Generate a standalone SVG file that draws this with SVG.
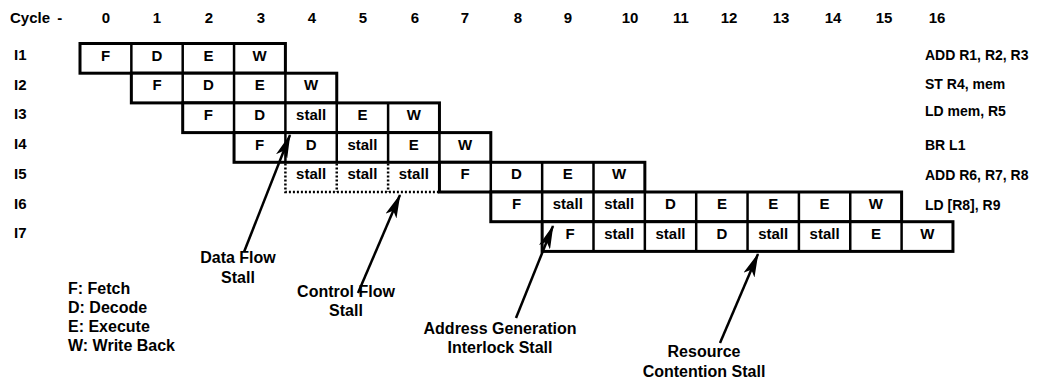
<svg xmlns="http://www.w3.org/2000/svg" width="1044" height="384" viewBox="0 0 1044 384">
<style>
text{font-family:"Liberation Sans",Arial,sans-serif;font-weight:bold;fill:#000}
.hd{font-size:15px;text-anchor:middle}
.rl{font-size:15px}
.c{font-size:15px;text-anchor:middle}
.ins{font-size:14px}
.ann{font-size:16px;text-anchor:middle}
.leg{font-size:16px}
.box{fill:#fff;stroke:#000;stroke-width:3}
.div{stroke:#000;stroke-width:2.5}
.dot{fill:none;stroke:#000;stroke-width:2.5;stroke-dasharray:2 2}
.arr{stroke:#000;stroke-width:2.5;fill:none;marker-end:url(#ah)}
</style>
<defs>
<marker id="ah" viewBox="0 0 24 12" refX="23" refY="6" markerWidth="24" markerHeight="12" markerUnits="userSpaceOnUse" orient="auto">
<path d="M0,0 L24,6 L0,12 L6,6 Z" fill="#000"/>
</marker>
</defs>
<rect width="1044" height="384" fill="#fff"/>
<g id="header">
<text x="10" y="23" style="font-size:15px" word-spacing="3">Cycle -</text>
<text class="hd" x="106" y="23">0</text>
<text class="hd" x="157" y="23">1</text>
<text class="hd" x="209" y="23">2</text>
<text class="hd" x="261" y="23">3</text>
<text class="hd" x="312" y="23">4</text>
<text class="hd" x="363" y="23">5</text>
<text class="hd" x="415" y="23">6</text>
<text class="hd" x="465" y="23">7</text>
<text class="hd" x="518" y="23">8</text>
<text class="hd" x="568" y="23">9</text>
<text class="hd" x="630" y="23">10</text>
<text class="hd" x="681" y="23">11</text>
<text class="hd" x="729" y="23">12</text>
<text class="hd" x="781" y="23">13</text>
<text class="hd" x="833" y="23">14</text>
<text class="hd" x="884" y="23">15</text>
<text class="hd" x="937" y="23">16</text>
</g>
<g id="I1">
<text class="rl" x="14" y="60">I1</text>
<rect class="box" x="80" y="43.5" width="205.4" height="29.7"/>
<line class="div" x1="131.35" y1="43.5" x2="131.35" y2="73.2"/>
<line class="div" x1="182.7" y1="43.5" x2="182.7" y2="73.2"/>
<line class="div" x1="234.05" y1="43.5" x2="234.05" y2="73.2"/>
<text class="c" x="105.7" y="60.5">F</text>
<text class="c" x="157" y="60.5">D</text>
<text class="c" x="208.4" y="60.5">E</text>
<text class="c" x="259.7" y="60.5">W</text>
<text class="ins" x="925" y="60">ADD R1, R2, R3</text>
</g>
<g id="I2">
<text class="rl" x="14" y="90">I2</text>
<rect class="box" x="131.35" y="73.2" width="205.4" height="29.7"/>
<line class="div" x1="182.7" y1="73.2" x2="182.7" y2="102.9"/>
<line class="div" x1="234.05" y1="73.2" x2="234.05" y2="102.9"/>
<line class="div" x1="285.4" y1="73.2" x2="285.4" y2="102.9"/>
<text class="c" x="157" y="90.2">F</text>
<text class="c" x="208.4" y="90.2">D</text>
<text class="c" x="259.7" y="90.2">E</text>
<text class="c" x="311.1" y="90.2">W</text>
<text class="ins" x="925" y="89">ST R4, mem</text>
</g>
<g id="I3">
<text class="rl" x="14" y="119">I3</text>
<rect class="box" x="182.7" y="102.9" width="256.75" height="29.7"/>
<line class="div" x1="234.05" y1="102.9" x2="234.05" y2="132.6"/>
<line class="div" x1="285.4" y1="102.9" x2="285.4" y2="132.6"/>
<line class="div" x1="336.75" y1="102.9" x2="336.75" y2="132.6"/>
<line class="div" x1="388.1" y1="102.9" x2="388.1" y2="132.6"/>
<text class="c" x="208.4" y="119.9">F</text>
<text class="c" x="259.7" y="119.9">D</text>
<text class="c" x="311.1" y="119.9">stall</text>
<text class="c" x="362.4" y="119.9">E</text>
<text class="c" x="413.8" y="119.9">W</text>
<text class="ins" x="925" y="116">LD mem, R5</text>
</g>
<g id="I4">
<text class="rl" x="14" y="149">I4</text>
<rect class="box" x="234.05" y="132.6" width="256.75" height="29.7"/>
<line class="div" x1="285.4" y1="132.6" x2="285.4" y2="162.3"/>
<line class="div" x1="336.75" y1="132.6" x2="336.75" y2="162.3"/>
<line class="div" x1="388.1" y1="132.6" x2="388.1" y2="162.3"/>
<line class="div" x1="439.45" y1="132.6" x2="439.45" y2="162.3"/>
<text class="c" x="259.7" y="149.6">F</text>
<text class="c" x="311.1" y="149.6">D</text>
<text class="c" x="362.4" y="149.6">stall</text>
<text class="c" x="413.8" y="149.6">E</text>
<text class="c" x="465.1" y="149.6">W</text>
<text class="ins" x="925" y="150">BR L1</text>
</g>
<g id="I5">
<text class="rl" x="14" y="179">I5</text>
<path class="dot" d="M285.4,163.5 V192 H439.45 M336.75,163.5 V192 M388.1,163.5 V192"/>
<rect class="box" x="439.45" y="162.3" width="205.4" height="29.7"/>
<line class="div" x1="490.8" y1="162.3" x2="490.8" y2="192"/>
<line class="div" x1="542.15" y1="162.3" x2="542.15" y2="192"/>
<line class="div" x1="593.5" y1="162.3" x2="593.5" y2="192"/>
<text class="c" x="311.1" y="179.3">stall</text>
<text class="c" x="362.4" y="179.3">stall</text>
<text class="c" x="413.8" y="179.3">stall</text>
<text class="c" x="465.1" y="179.3">F</text>
<text class="c" x="516.5" y="179.3">D</text>
<text class="c" x="567.8" y="179.3">E</text>
<text class="c" x="619.2" y="179.3">W</text>
<text class="ins" x="925" y="180">ADD R6, R7, R8</text>
</g>
<g id="I6">
<text class="rl" x="14" y="209">I6</text>
<rect class="box" x="490.8" y="192" width="410.8" height="29.7"/>
<line class="div" x1="542.15" y1="192" x2="542.15" y2="221.7"/>
<line class="div" x1="593.5" y1="192" x2="593.5" y2="221.7"/>
<line class="div" x1="644.85" y1="192" x2="644.85" y2="221.7"/>
<line class="div" x1="696.2" y1="192" x2="696.2" y2="221.7"/>
<line class="div" x1="747.55" y1="192" x2="747.55" y2="221.7"/>
<line class="div" x1="798.9" y1="192" x2="798.9" y2="221.7"/>
<line class="div" x1="850.25" y1="192" x2="850.25" y2="221.7"/>
<text class="c" x="516.5" y="209">F</text>
<text class="c" x="567.8" y="209">stall</text>
<text class="c" x="619.2" y="209">stall</text>
<text class="c" x="670.5" y="209">D</text>
<text class="c" x="721.9" y="209">E</text>
<text class="c" x="773.2" y="209">E</text>
<text class="c" x="824.6" y="209">E</text>
<text class="c" x="875.9" y="209">W</text>
<text class="ins" x="925" y="210">LD [R8], R9</text>
</g>
<g id="I7">
<text class="rl" x="14" y="238">I7</text>
<rect class="box" x="542.15" y="221.7" width="410.8" height="29.7"/>
<line class="div" x1="593.5" y1="221.7" x2="593.5" y2="251.4"/>
<line class="div" x1="644.85" y1="221.7" x2="644.85" y2="251.4"/>
<line class="div" x1="696.2" y1="221.7" x2="696.2" y2="251.4"/>
<line class="div" x1="747.55" y1="221.7" x2="747.55" y2="251.4"/>
<line class="div" x1="798.9" y1="221.7" x2="798.9" y2="251.4"/>
<line class="div" x1="850.25" y1="221.7" x2="850.25" y2="251.4"/>
<line class="div" x1="901.6" y1="221.7" x2="901.6" y2="251.4"/>
<text class="c" x="570" y="238.7">F</text>
<text class="c" x="619.2" y="238.7">stall</text>
<text class="c" x="670.5" y="238.7">stall</text>
<text class="c" x="721.9" y="238.7">D</text>
<text class="c" x="773.2" y="238.7">stall</text>
<text class="c" x="824.6" y="238.7">stall</text>
<text class="c" x="875.9" y="238.7">E</text>
<text class="c" x="927.3" y="238.7">W</text>
</g>
<g id="connectors">
<line class="arr" x1="244" y1="252" x2="290" y2="135"/>
<line class="arr" x1="358" y1="293" x2="400" y2="195"/>
<line class="arr" x1="516" y1="318" x2="553" y2="226"/>
<line class="arr" x1="720" y1="343" x2="758" y2="254"/>
</g>
<g id="annotations">
<text class="ann" x="238" y="263">Data Flow</text>
<text class="ann" x="238" y="283">Stall</text>
<text class="ann" x="346" y="297">Control Flow</text>
<text class="ann" x="346" y="316">Stall</text>
<text class="ann" x="500" y="334">Address Generation</text>
<text class="ann" x="500" y="353">Interlock Stall</text>
<text class="ann" x="704" y="357">Resource</text>
<text class="ann" x="704" y="377">Contention Stall</text>
</g>
<g id="legend">
<text class="leg" x="68" y="294">F: Fetch</text>
<text class="leg" x="68" y="313">D: Decode</text>
<text class="leg" x="68" y="332">E: Execute</text>
<text class="leg" x="68" y="351">W: Write Back</text>
</g>
</svg>
